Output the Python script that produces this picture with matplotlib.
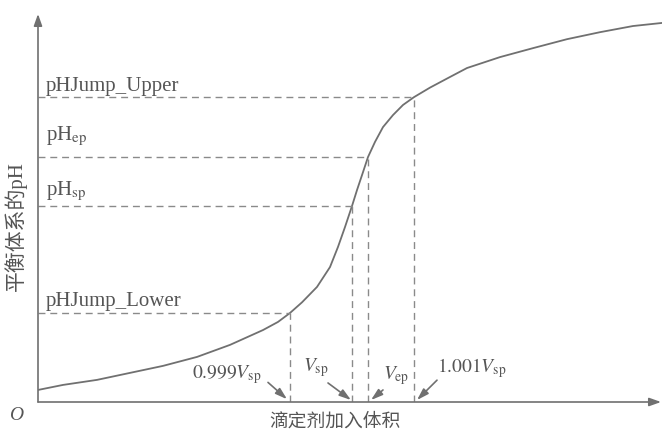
import matplotlib
matplotlib.use('Agg')
import matplotlib.pyplot as plt

plt.rcParams['mathtext.fontset'] = 'stix'
plt.rcParams['font.family'] = ['Liberation Serif', 'Noto Sans CJK SC']

# titration curve points (volume, pH)
vol = [0, 2.5, 5.9, 9.2, 12.5, 15.9, 19.2, 22.5, 24.0, 25.2, 26.4, 27.9, 29.2, 30.0, 30.7,
       31.4, 31.9, 32.5, 33.0, 33.7, 34.5, 35.5, 36.5, 37.6, 39.2, 41.2, 42.9, 46.2,
       49.5, 52.9, 56.2, 59.5, 62.4]
ph = [0.43, 0.61, 0.79, 1.04, 1.29, 1.61, 2.04, 2.57, 2.86, 3.18, 3.56, 4.11, 4.82, 5.54, 6.25,
      7.0, 7.57, 8.21, 8.75, 9.29, 9.82, 10.25, 10.61, 10.89, 11.23, 11.61, 11.93, 12.32,
      12.64, 12.96, 13.21, 13.43, 13.54]

# key points: label on y side, label on x side, volume, pH
level_names = ['pHJump_Lower', r'pH$_{\mathrm{sp}}$', r'pH$_{\mathrm{ep}}$', 'pHJump_Upper']
vol_names = [r'$0.999\mathit{V}_{\mathrm{sp}}$', r'$\mathit{V}_{\mathrm{sp}}$',
             r'$\mathit{V}_{\mathrm{ep}}$', r'$1.001\mathit{V}_{\mathrm{sp}}$']
key_vol = [25.2, 31.4, 33.0, 37.6]
key_ph = [3.18, 7.0, 8.75, 10.89]

line_col = '#707070'
dash_col = '#8a8a8a'
text_col = '#555555'

fig = plt.figure(figsize=(6.62, 4.33), dpi=100)
ax = fig.add_axes([0.0574, 0.0716, 0.9426, 0.8961])
ax.set_xlim(0, 62.4)
ax.set_ylim(0, 13.86)
for s in ax.spines.values():
    s.set_visible(False)
ax.set_xticks([])
ax.set_yticks([])

# axes with arrow heads
arr = dict(arrowstyle='-|>,head_length=0.7,head_width=0.25', color=line_col, lw=1.2,
           shrinkA=0, shrinkB=0)
ax.annotate('', xy=(62.3, 0), xytext=(0, 0), arrowprops=arr)
ax.annotate('', xy=(0, 13.86), xytext=(0, 0), arrowprops=arr)

# curve
ax.plot(vol, ph, color=line_col, lw=1.3, solid_joinstyle='round')

# dashed guides
for v, p in zip(key_vol, key_ph):
    ax.plot([0, v], [p, p], ls=(0, (5, 3.5)), color=dash_col, lw=1)
    ax.plot([v, v], [0, p], ls=(0, (5, 3.5)), color=dash_col, lw=1)

# level labels
level_y = [3.43, 7.39, 9.36, 11.1]
for name, y in zip(level_names, level_y):
    ax.text(0.8, y, name, fontsize=15, color=text_col, va='baseline', ha='left')

# volume labels with arrows
lab_pos = [(15.4, 0.86), (26.5, 1.1), (34.5, 0.8), (39.9, 1.05)]
tail = [(23.0, 0.7), (29.0, 0.68), (34.5, 0.43), (39.9, 0.78)]
tip = [(24.9, 0.1), (31.3, 0.07), (33.3, 0.07), (37.9, 0.07)]
head = dict(arrowstyle='-|>,head_length=0.7,head_width=0.22', color=line_col, lw=1.2,
            shrinkA=0, shrinkB=0)
for name, (lx, ly), t, h in zip(vol_names, lab_pos, tail, tip):
    ax.text(lx, ly, name, fontsize=14, color=text_col, va='baseline', ha='left')
    ax.annotate('', xy=h, xytext=t, arrowprops=head)

# origin and axis titles
ax.text(-2.2, -0.5, 'O', fontsize=14, style='italic', color=text_col,
        ha='center', va='center', clip_on=False)
ax.text(29.7, -0.72, '滴定剂加入体积', fontsize=13.5, color=text_col,
        ha='center', va='center', clip_on=False)
ax.text(-2.2, 6.3, '平衡体系的pH', fontsize=15, color=text_col, rotation=90,
        ha='center', va='center', clip_on=False)

fig.savefig('out.png', dpi=100)
